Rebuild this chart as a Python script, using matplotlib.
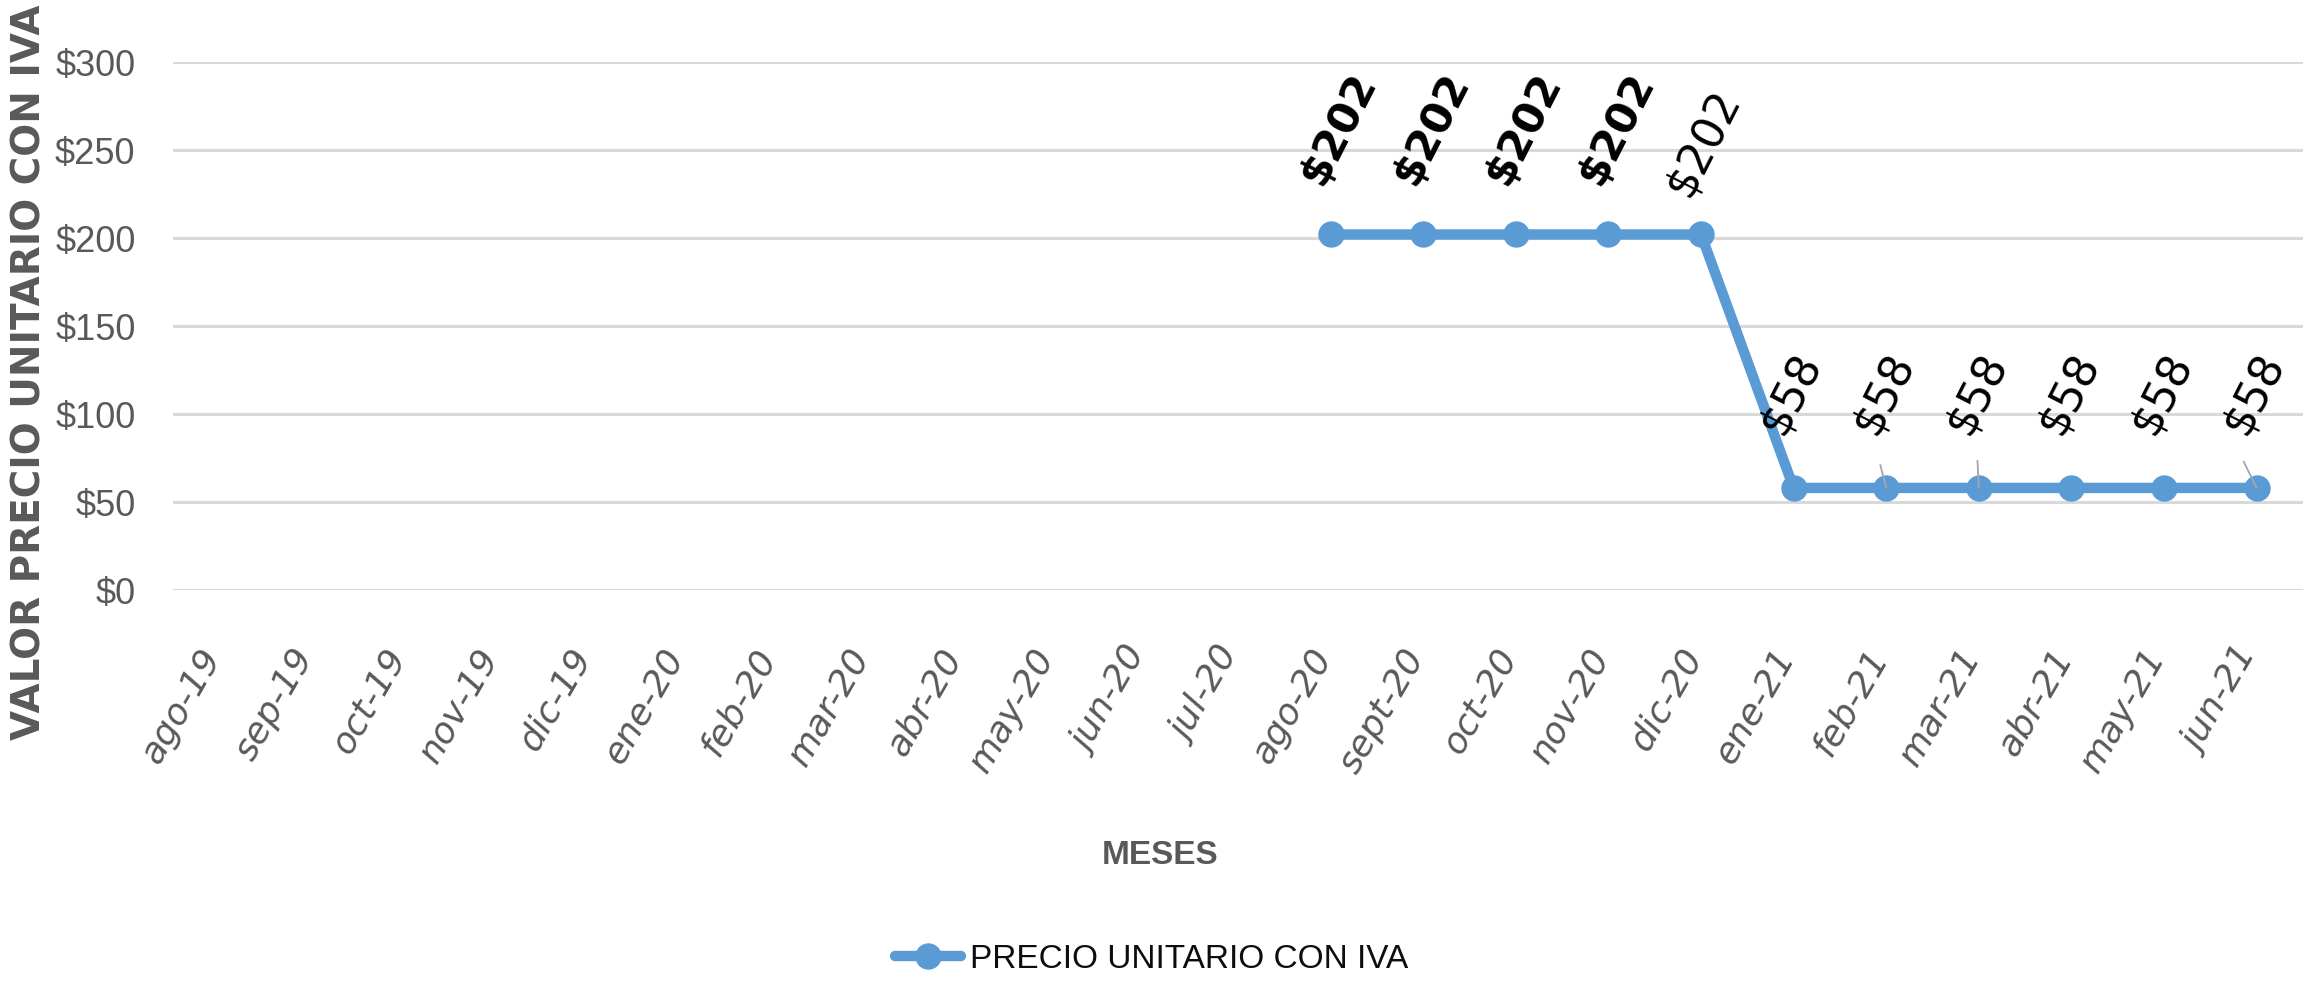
import numpy as np
import matplotlib
matplotlib.use("Agg")
import matplotlib.pyplot as plt
from matplotlib.transforms import ScaledTranslation

# ---------------- data ----------------
months = ["ago-19", "sep-19", "oct-19", "nov-19", "dic-19", "ene-20", "feb-20",
          "mar-20", "abr-20", "may-20", "jun-20", "jul-20", "ago-20", "sept-20",
          "oct-20", "nov-20", "dic-20", "ene-21", "feb-21", "mar-21", "abr-21",
          "may-21", "jun-21"]
precio = [np.nan] * 12 + [202, 202, 202, 202, 202, 58, 58, 58, 58, 58, 58]
yticks = [0, 50, 100, 150, 200, 250, 300]
ytick_labels = ["$0", "$50", "$100", "$150", "$200", "$250", "$300"]
series_name = "PRECIO UNITARIO CON IVA"
x_title = "MESES"
y_title = "VALOR PRECIO UNITARIO CON IVA"
bold_labels = [12, 13, 14, 15]          # indices whose data label is bold
leader_idx = [18, 19, 22]               # labels drawn with a leader line

SANS = ["Liberation Sans", "DejaVu Sans"]
BLUE = "#5B9BD5"
GRAY = "#595959"

W, H = 2321, 984
fig = plt.figure(figsize=(W / 100, H / 100), dpi=100)
ax = fig.add_axes([173 / W, 1 - 590 / H, (2303 - 173) / W, (590 - 62) / H])

xs = np.arange(len(months))
line, = ax.plot(xs, precio, color=BLUE, lw=7.5, marker="o", markersize=18,
                solid_capstyle="round", label=series_name, zorder=3)

ax.set_xlim(-0.5, len(months) - 0.5)
ax.set_ylim(0, 300)
ax.set_yticks(yticks)
ax.set_yticklabels(ytick_labels, family=SANS, fontsize=26, color=GRAY)
ax.yaxis.grid(True, color="#D9D9D9", lw=2.2)
ax.set_axisbelow(True)
for s in ax.spines.values():
    s.set_visible(False)
ax.tick_params(axis="both", length=0)
ax.tick_params(axis="y", pad=27)
ax.tick_params(axis="x", pad=38)

ax.set_xticks(xs)
ax.set_xticklabels(months, rotation=60, ha="right", family="DejaVu Sans",
                   fontstyle="italic", fontsize=26, color=GRAY)
for lbl in ax.get_xticklabels():
    lbl.set_transform(lbl.get_transform() + ScaledTranslation(0.08, 0, fig.dpi_scale_trans))

# data labels
for i, v in enumerate(precio):
    if np.isnan(v):
        continue
    if i in bold_labels:
        off, wt, fs = (6, 76), "bold", 31
    elif v > 100:
        off, wt, fs = (1.5, 66), "normal", 32
    else:
        off, wt, fs = (-2, 68), "normal", 32
    ax.annotate(f"${v:.0f}", xy=(i, v), xytext=off, textcoords="offset points",
                ha="center", va="center", rotation=63, fontsize=fs,
                fontweight=wt, family="DejaVu Sans", color="black", zorder=5)

leader_offsets = {18: (-4.3, 16.5), 19: (-1, 19.5), 22: (-9.4, 19)}
for i in leader_idx:
    ax.annotate("", xy=(i, precio[i]), xytext=leader_offsets[i],
                textcoords="offset points",
                arrowprops=dict(arrowstyle="-", color="#A6A6A6", lw=1.3,
                                shrinkA=0, shrinkB=0), zorder=4)

# axis titles
fig.text(1160 / W, 1 - 855 / H, x_title, ha="center", va="center",
         family=SANS, fontweight="bold", fontsize=24, color=GRAY)
fig.text(30 / W, 1 - 372 / H, y_title, ha="center", va="center", rotation=90,
         family="DejaVu Sans", fontweight="bold", fontsize=28, color=GRAY)

# legend
leg = fig.legend(handles=[line], loc="center", bbox_to_anchor=(0.496, 1 - 959 / H),
                 frameon=False, prop={"family": SANS, "size": 24},
                 handlelength=2.0, handletextpad=0.25, labelcolor="#0D0D0D")

fig.savefig("out.png", dpi=100)
